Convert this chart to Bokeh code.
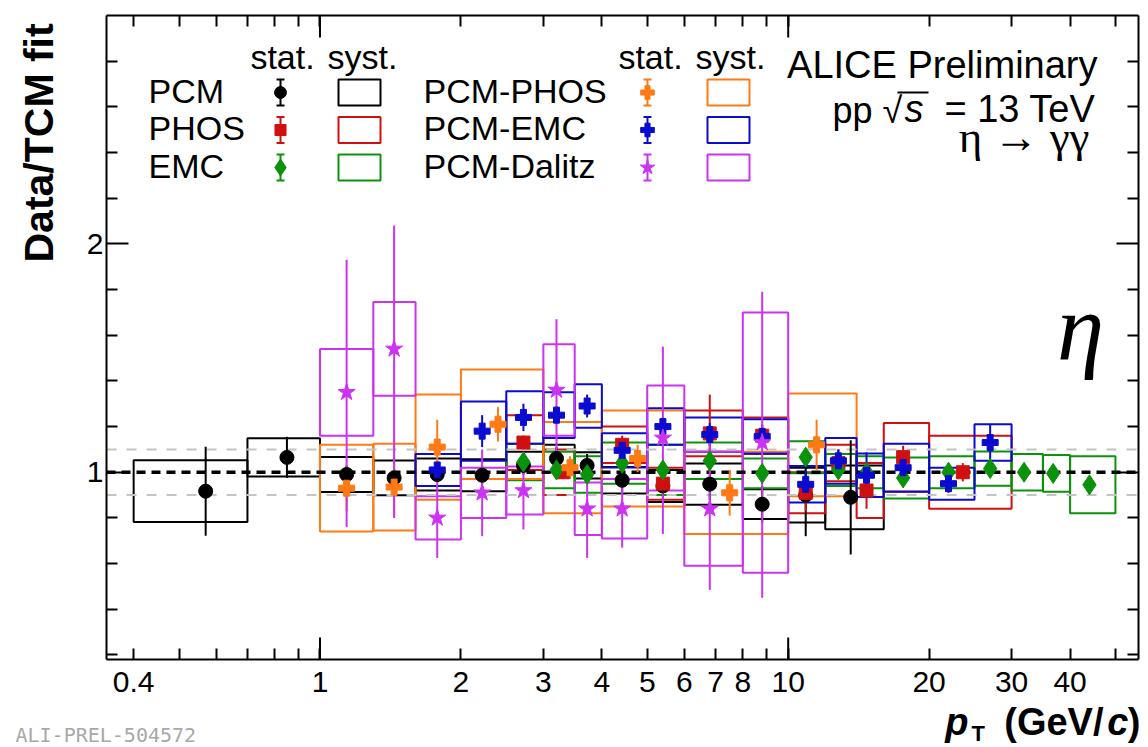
import math
from bokeh.plotting import figure
from bokeh.models import (Range1d, LogAxis, LinearAxis, FixedTicker, Label,
                          Whisker, TeeHead, ColumnDataSource, BoxAnnotation)
from bokeh.embed import file_html
from bokeh.resources import INLINE

# ---------------- data: eta -> gamma gamma, data / TCM fit ----------------
# PCM
pcm_lo = [0.4, 0.7, 1.0, 1.3, 1.6, 2.0, 2.5, 3.0, 3.5, 4.0, 5.0, 6.0, 8.0, 10.0, 12.0]
pcm_hi = [0.7, 1.0, 1.3, 1.6, 2.0, 2.5, 3.0, 3.5, 4.0, 5.0, 6.0, 8.0, 10.0, 12.0, 16.0]
pcm_pt = [0.57, 0.85, 1.14, 1.44, 1.78, 2.22, 2.72, 3.2, 3.72, 4.42, 5.4, 6.8, 8.8, 10.9, 13.6]
pcm_ratio = [0.917, 1.065, 0.99, 0.975, 0.99, 0.987, 1.03, 1.06, 1.03, 0.965, 0.94, 0.948, 0.86, 0.90, 0.89]
pcm_stat = [0.195, 0.09, 0.04, 0.04, 0.035, 0.04, 0.04, 0.05, 0.05, 0.05, 0.06, 0.07, 0.08, 0.18, 0.25]
pcm_syst = [0.135, 0.084, 0.077, 0.076, 0.07, 0.07, 0.06, 0.06, 0.057, 0.058, 0.07, 0.09, 0.065, 0.12, 0.14]

# PHOS
phos_lo = [2.5, 3.0, 4.0, 5.0, 6.0, 8.0, 10.0, 12.0, 14.0, 16.0, 20.0]
phos_hi = [3.0, 3.5, 5.0, 6.0, 8.0, 10.0, 12.0, 14.0, 16.0, 20.0, 30.0]
phos_pt = [2.72, 3.3, 4.42, 5.4, 6.8, 8.8, 10.9, 12.8, 14.7, 17.6, 23.6]
phos_ratio = [1.13, 1.0, 1.12, 0.95, 1.17, 1.16, 0.91, 1.04, 0.92, 1.066, 1.0]
phos_stat = [0.03, 0.03, 0.04, 0.04, 0.17, 0.05, 0.08, 0.06, 0.08, 0.05, 0.04]
phos_syst = [0.12, 0.10, 0.08, 0.07, 0.10, 0.08, 0.09, 0.08, 0.12, 0.15, 0.16]

# EMC
emc_lo = [2.5, 3.0, 3.5, 4.0, 5.0, 6.0, 8.0, 10.0, 12.0, 14.0, 16.0, 20.0, 25.0, 30.0, 35.0, 40.0]
emc_hi = [3.0, 3.5, 4.0, 5.0, 6.0, 8.0, 10.0, 12.0, 14.0, 16.0, 20.0, 25.0, 30.0, 35.0, 40.0, 50.0]
emc_pt = [2.72, 3.2, 3.72, 4.42, 5.4, 6.8, 8.8, 10.9, 12.8, 14.7, 17.6, 22.0, 27.0, 31.9, 36.8, 44.0]
emc_ratio = [1.045, 1.01, 0.99, 1.04, 1.01, 1.05, 0.995, 1.066, 1.01, 1.0, 0.975, 1.0, 1.016, 1.0, 0.995, 0.945]
emc_stat = [0.03, 0.03, 0.03, 0.03, 0.03, 0.03, 0.03, 0.03, 0.03, 0.03, 0.03, 0.03, 0.03, 0.03, 0.03, 0.035]
emc_syst = [0.08, 0.08, 0.08, 0.09, 0.11, 0.08, 0.065, 0.07, 0.07, 0.07, 0.09, 0.07, 0.075, 0.08, 0.08, 0.125]

# PCM-PHOS
pcmphos_lo = [1.0, 1.3, 1.6, 2.0, 3.0, 4.0, 6.0, 10.0]
pcmphos_hi = [1.3, 1.6, 2.0, 3.0, 4.0, 6.0, 10.0, 14.0]
pcmphos_pt = [1.14, 1.44, 1.78, 2.4, 3.42, 4.77, 7.5, 11.5]
pcmphos_ratio = [0.93, 0.935, 1.11, 1.21, 1.02, 1.06, 0.91, 1.12]
pcmphos_stat = [0.10, 0.13, 0.12, 0.075, 0.05, 0.06, 0.10, 0.11]
pcmphos_syst = [0.19, 0.19, 0.23, 0.24, 0.20, 0.21, 0.18, 0.225]

# PCM-EMC
pcmemc_lo = [1.6, 2.0, 2.5, 3.0, 3.5, 4.0, 5.0, 6.0, 8.0, 10.0, 12.0, 14.0, 16.0, 20.0, 25.0]
pcmemc_hi = [2.0, 2.5, 3.0, 3.5, 4.0, 5.0, 6.0, 8.0, 10.0, 12.0, 14.0, 16.0, 20.0, 25.0, 30.0]
pcmemc_pt = [1.78, 2.22, 2.72, 3.2, 3.72, 4.42, 5.4, 6.8, 8.8, 10.9, 12.8, 14.7, 17.6, 22.0, 27.0]
pcmemc_ratio = [1.01, 1.18, 1.24, 1.25, 1.29, 1.096, 1.2, 1.165, 1.157, 0.947, 1.05, 0.987, 1.02, 0.95, 1.13]
pcmemc_stat = [0.03, 0.07, 0.06, 0.04, 0.05, 0.04, 0.04, 0.05, 0.05, 0.06, 0.05, 0.10, 0.06, 0.04, 0.08]
pcmemc_syst = [0.07, 0.13, 0.115, 0.10, 0.095, 0.075, 0.08, 0.075, 0.075, 0.08, 0.10, 0.095, 0.105, 0.07, 0.08]

# PCM-Dalitz (asymmetric statistical errors)
dalitz_lo = [1.0, 1.3, 1.6, 2.0, 2.5, 3.0, 3.5, 4.0, 5.0, 6.0, 8.0]
dalitz_hi = [1.3, 1.6, 2.0, 2.5, 3.0, 3.5, 4.0, 5.0, 6.0, 8.0, 10.0]
dalitz_pt = [1.14, 1.44, 1.78, 2.22, 2.72, 3.2, 3.72, 4.42, 5.4, 6.8, 8.8]
dalitz_ratio = [1.35, 1.54, 0.80, 0.91, 0.92, 1.36, 0.84, 0.84, 1.15, 0.84, 1.13]
dalitz_stat_up = [0.58, 0.54, 0.17, 0.19, 0.17, 0.31, 0.21, 0.17, 0.40, 0.35, 0.66]
dalitz_stat_dn = [0.59, 0.74, 0.175, 0.19, 0.17, 0.31, 0.215, 0.17, 0.42, 0.355, 0.68]
dalitz_syst = [0.19, 0.205, 0.095, 0.11, 0.105, 0.20, 0.115, 0.13, 0.23, 0.25, 0.57]

# axis ticks and reference levels
x_labeled = [0.4, 1.0, 2.0, 3.0, 4.0, 5.0, 6.0, 7.0, 8.0, 10.0, 20.0, 30.0, 40.0]
x_unlabeled = [0.5, 0.6, 0.7, 0.8, 0.9, 9.0, 50.0]
x_long = [1.0, 10.0]
y_major = [1.0, 2.0]
y_minor = [0.2, 0.4, 0.6, 0.8, 1.2, 1.4, 1.6, 1.8, 2.2, 2.4, 2.6, 2.8]
band_levels = [1.1, 0.9]
unity_level = 1.0

# ---------------- layout ----------------
W, H = 1148, 747
FL, FR, FT, FB = 106, 1138, 15, 659      # edges of the axis box (canvas px)
X0, X1 = 0.35, 56.0                      # axis box range
Y0, Y1 = 0.18, 3.0
FONT = "Liberation Sans"

PCM_C, PHOS_C, EMC_C = "#000000", "#d01010", "#0a930a"
PP_C, PE_C, PD_C = "#ff7a14", "#0a0ad0", "#cc33f0"

series = [
    dict(lo=pcm_lo, hi=pcm_hi, pt=pcm_pt, val=pcm_ratio, up=pcm_stat, dn=pcm_stat,
         syst=pcm_syst, color=PCM_C, marker="circle", size=14),
    dict(lo=phos_lo, hi=phos_hi, pt=phos_pt, val=phos_ratio, up=phos_stat, dn=phos_stat,
         syst=phos_syst, color=PHOS_C, marker="square", size=13),
    dict(lo=emc_lo, hi=emc_hi, pt=emc_pt, val=emc_ratio, up=emc_stat, dn=emc_stat,
         syst=emc_syst, color=EMC_C, marker="diamond", size=20),
    dict(lo=pcmphos_lo, hi=pcmphos_hi, pt=pcmphos_pt, val=pcmphos_ratio, up=pcmphos_stat,
         dn=pcmphos_stat, syst=pcmphos_syst, color=PP_C, marker="plus", size=16),
    dict(lo=pcmemc_lo, hi=pcmemc_hi, pt=pcmemc_pt, val=pcmemc_ratio, up=pcmemc_stat,
         dn=pcmemc_stat, syst=pcmemc_syst, color=PE_C, marker="plus", size=16),
    dict(lo=dalitz_lo, hi=dalitz_hi, pt=dalitz_pt, val=dalitz_ratio, up=dalitz_stat_up,
         dn=dalitz_stat_dn, syst=dalitz_syst, color=PD_C, marker="star", size=18),
]

# the plotting frame covers the whole canvas; the axes are pinned to the box edges
lx0, lx1 = math.log10(X0), math.log10(X1)
kx = (lx1 - lx0) / (FR - FL)
ky = (Y1 - Y0) / (FB - FT)
x_range = Range1d(10 ** (lx0 - FL * kx), 10 ** (lx1 + (W - FR) * kx))
y_range = Range1d(Y0 - (H - FB) * ky, Y1 + FT * ky)

p = figure(width=W, height=H, x_axis_type="log", x_range=x_range, y_range=y_range,
           x_axis_location=None, y_axis_location=None,
           output_backend="svg", toolbar_location=None, min_border=0)
p.grid.visible = False
p.outline_line_color = None
p.background_fill_color = "white"
p.border_fill_color = "white"


def x_axis(loc, show):
    ticks = sorted(x_labeled + x_unlabeled)
    ax = LogAxis(fixed_location=loc, bounds=(X0, X1), ticker=FixedTicker(ticks=ticks))
    ax.major_label_overrides = {t: (f"{t:g}" if (show and t in x_labeled) else "") for t in ticks}
    ax.major_tick_in = 11
    ax.major_tick_out = 0
    ax.minor_tick_in = 0
    ax.minor_tick_out = 0
    ax.axis_line_width = 2
    ax.major_tick_line_width = 2
    ax.major_label_text_font = FONT
    ax.major_label_text_font_size = "30px" if show else "0px"
    ax.major_label_text_color = "black"
    ax.major_label_standoff = 12 if show else 0
    return ax


def y_axis(loc, show):
    ax = LinearAxis(fixed_location=loc, bounds=(Y0, Y1),
                    ticker=FixedTicker(ticks=y_major, minor_ticks=y_minor))
    ax.major_label_overrides = {t: (f"{t:g}" if show else "") for t in y_major}
    ax.major_tick_in = 22
    ax.major_tick_out = 0
    ax.minor_tick_in = 11
    ax.minor_tick_out = 0
    ax.axis_line_width = 2
    ax.major_tick_line_width = 2
    ax.minor_tick_line_width = 2
    ax.major_label_text_font = FONT
    ax.major_label_text_font_size = "30px" if show else "0px"
    ax.major_label_text_color = "black"
    ax.major_label_standoff = 3 if show else 0
    return ax


p.add_layout(x_axis(Y0, True), "below")
p.add_layout(x_axis(Y1, False), "above")
p.add_layout(y_axis(X0, True), "left")
p.add_layout(y_axis(X1, False), "right")

# longer ticks at the decades 1 and 10, on the bottom and top of the box
tick_dy = 22 * ky
n_long = len(x_long)
p.segment(x0=x_long, x1=x_long, y0=[Y0] * n_long, y1=[Y0 + tick_dy] * n_long,
          line_color="black", line_width=2)
p.segment(x0=x_long, x1=x_long, y0=[Y1 - tick_dy] * n_long, y1=[Y1] * n_long,
          line_color="black", line_width=2)

# systematic-uncertainty boxes
for s in series:
    p.quad(left=s["lo"], right=s["hi"],
           bottom=[v - e for v, e in zip(s["val"], s["syst"])],
           top=[v + e for v, e in zip(s["val"], s["syst"])],
           fill_color=None, line_color=s["color"], line_width=2)

# reference lines: +-10 % band and unity
p.segment(x0=[X0] * len(band_levels), x1=[X1] * len(band_levels), y0=band_levels, y1=band_levels,
          line_color="#c4c4c4", line_dash="10 10", line_width=2)
p.segment(x0=[X0], x1=[X1], y0=[unity_level], y1=[unity_level],
          line_color="black", line_dash="9 6", line_width=3.5)

# statistical error bars and markers
for s in series:
    p.segment(x0=s["pt"], x1=s["pt"],
              y0=[v - e for v, e in zip(s["val"], s["dn"])],
              y1=[v + e for v, e in zip(s["val"], s["up"])],
              line_color=s["color"], line_width=2)
for s in series:
    p.scatter(s["pt"], s["val"], marker=s["marker"], size=s["size"],
              fill_color=s["color"], line_color=s["color"])


# ---------------- texts ----------------
def put(text, px, base, size, align="left", font=FONT, style="normal", color="black",
        angle=0.0):
    """Place a text by its baseline position (canvas px, origin top-left)."""
    mid = 0.3465 * size
    if angle:
        x, y = px - mid, H - base
    else:
        x, y = px, H - (base - mid)
    p.add_layout(Label(x=x, y=y, x_units="screen", y_units="screen",
                       text=text, text_font=font, text_font_size=f"{size}px",
                       text_font_style=style, text_align=align, text_baseline="middle",
                       text_color=color, angle=angle))


def dx(px):
    return 10 ** (lx0 + (px - FL) * kx)


def dy(py):
    return Y0 + (FB - py) * ky


# axis titles
put("Data/TCM fit", 53, 262, 41, style="bold", angle=math.pi / 2)
put("p", 968, 735, 38, align="right", style="bold italic")
put("T", 971, 741, 22, style="bold")
put("(GeV/", 1103, 735, 38, align="right", style="bold")
put("c", 1128, 735, 38, align="right", style="bold italic")
put(")", 1140, 735, 38, align="right", style="bold")
put("ALI-PREL-504572", 15, 741, 20, font="DejaVu Sans Mono", color="#a8a8a8")

# system labels
put("ALICE Preliminary", 1097, 78, 38, align="right")
put("pp", 832, 122, 36)
put("\u221a", 882, 122, 36)
put("s", 904, 122, 38, style="italic")
put("= 13 TeV", 1095, 122, 38, align="right")
p.add_layout(BoxAnnotation(left=897, right=928, top=H - 91, bottom=H - 93,
                           left_units="screen", right_units="screen",
                           top_units="screen", bottom_units="screen",
                           fill_color="black", fill_alpha=1, line_alpha=0))
put("\u03b7 \u2192 \u03b3\u03b3", 1089, 152, 45, align="right", font="Liberation Serif")
put("\u03b7", 1080, 360, 95, align="center", font="Liberation Serif", style="italic")

# legend: stat. markers with error bars, syst. boxes
legend_cols = [
    dict(text_x=148, mark_x=280, box=(338, 380), stat_x=282, syst_x=362,
         entries=[("PCM", series[0]), ("PHOS", series[1]), ("EMC", series[2])]),
    dict(text_x=423, mark_x=647, box=(707, 749), stat_x=650, syst_x=730,
         entries=[("PCM-PHOS", series[3]), ("PCM-EMC", series[4]), ("PCM-Dalitz", series[5])]),
]
row_base = [102, 139.5, 177]
for col in legend_cols:
    put("stat.", col["stat_x"], 68, 34, align="center")
    put("syst.", col["syst_x"], 68, 34, align="center")
    for (name, s), base in zip(col["entries"], row_base):
        put(name, col["text_x"], base, 34)
        cy = base - 10
        bx0, bx1 = col["box"]
        p.quad(left=[dx(bx0)], right=[dx(bx1)], top=[dy(cy - 13)], bottom=[dy(cy + 13)],
               fill_color=None, line_color=s["color"], line_width=2)
        src = ColumnDataSource(dict(base=[dx(col["mark_x"])], lower=[dy(cy + 13)],
                                    upper=[dy(cy - 13)]))
        p.add_layout(Whisker(source=src, base="base", lower="lower", upper="upper",
                             dimension="height", line_color=s["color"], line_width=2,
                             upper_head=TeeHead(size=8, line_color=s["color"], line_width=2),
                             lower_head=TeeHead(size=8, line_color=s["color"], line_width=2)))
        p.scatter([dx(col["mark_x"])], [dy(cy)], marker=s["marker"], size=s["size"] * 0.85,
                  fill_color=s["color"], line_color=s["color"])

open("out.html", "w").write(file_html(p, INLINE))
